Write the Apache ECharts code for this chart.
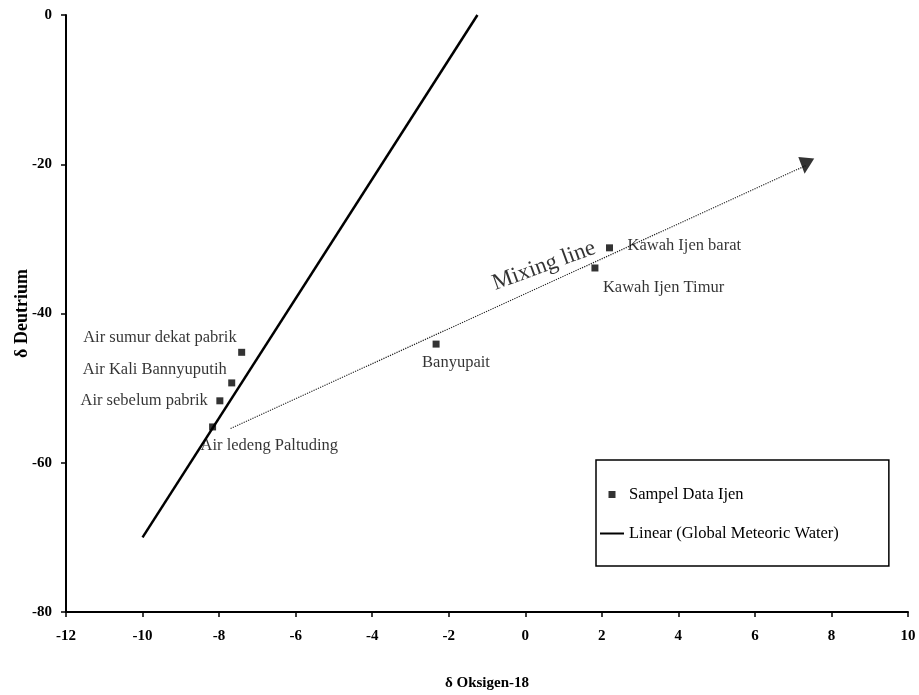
<!DOCTYPE html>
<html>
<head>
    <meta charset="utf-8">
    <title>Mixing line</title>
    <script src="https://cdn.jsdelivr.net/npm/echarts@6/dist/echarts.min.js"></script>
    <style>
        html, body { margin: 0; padding: 0; background: #fff; }
        #main { width: 919px; height: 695px; }
    </style>
</head>
<body>
<div id="main"></div>
<script type="text/javascript">
    // sampel data ijen
    var sampleNames = ['Kawah Ijen barat', 'Kawah Ijen Timur', 'Banyupait', 'Air sumur dekat pabrik',
                       'Air Kali Bannyuputih', 'Air sebelum pabrik', 'Air ledeng Paltuding'];
    var sampleX = [2.2, 1.82, -2.33, -7.41, -7.67, -7.98, -8.17];
    var sampleY = [-31.2, -33.9, -44.1, -45.2, -49.3, -51.7, -55.2];

    // garis air meteorik global
    var gmwlX = [-10, -1.25];
    var gmwlY = [-70, 0];

    // mixing line
    var mixX = [-7.7, 7.32];
    var mixY = [-55.4, -20.2];
    var mixText = 'Mixing line';
    var mixTextX = 0.49;
    var mixTextY = -33.6;

    var xTicks = [-12, 10, 2];
    var yTicks = [-80, 0, 20];

    var serif = "'Liberation Serif', 'Times New Roman', serif";

    // posisi label tiap titik
    var labelLayout = [
        {align: 'left',  offset: [18, -2]},
        {align: 'left',  offset: [8, 20]},
        {align: 'left',  offset: [-14, 19]},
        {align: 'right', offset: [-5, -15]},
        {align: 'right', offset: [-5, -13]},
        {align: 'right', offset: [-12, 0]},
        {align: 'left',  offset: [-12, 19]}
    ];

    var samples = [];
    for (var i = 0; i < sampleNames.length; i++) {
        samples.push({
            name: sampleNames[i],
            value: [sampleX[i], sampleY[i]],
            label: {
                show: true,
                position: 'inside',
                align: labelLayout[i].align,
                verticalAlign: 'middle',
                offset: labelLayout[i].offset,
                formatter: '{b}',
                color: '#000',
                fontFamily: serif,
                fontSize: 16.5
            }
        });
    }

    var gmwl = [];
    for (var i = 0; i < gmwlX.length; i++) gmwl.push([gmwlX[i], gmwlY[i]]);

    var mix = [];
    for (var i = 0; i < mixX.length; i++) mix.push([mixX[i], mixY[i]]);
    var arrowEnd = [mix[mix.length - 1]];

    var chart = echarts.init(document.getElementById('main'));
    chart.setOption({
        animation: false,
        backgroundColor: '#fff',
        grid: {
            left: 66, right: 11, top: 15, bottom: 83,
            containLabel: false,
            outerBoundsMode: 'none'
        },
        legend: {
            data: [
                {name: 'Sampel Data Ijen', icon: 'path://M0,0L10,0L10,10L0,10Z'},
                {name: 'Linear (Global Meteoric Water)', icon: 'path://M0,0L24,0L24,2L0,2Z'}
            ],
            orient: 'vertical',
            left: 596,
            top: 460,
            itemWidth: 24,
            itemHeight: 7,
            itemGap: 22,
            padding: [26, 50, 24, 4],
            backgroundColor: '#fff',
            borderColor: '#000',
            borderWidth: 1.5,
            textStyle: {
                color: '#000',
                fontFamily: serif,
                fontSize: 16.5
            }
        },
        xAxis: {
            type: 'value',
            min: xTicks[0], max: xTicks[1], interval: xTicks[2],
            name: 'δ Oksigen-18',
            nameLocation: 'middle',
            nameGap: 64,
            nameTextStyle: {color: '#000', fontFamily: serif, fontSize: 15, fontWeight: 'bold'},
            splitLine: {show: false},
            axisLine: {onZero: false, lineStyle: {color: '#000', width: 2}},
            axisTick: {length: 5, lineStyle: {color: '#000', width: 1.5}},
            axisLabel: {color: '#000', fontFamily: serif, fontSize: 15, fontWeight: 'bold', margin: 17}
        },
        yAxis: {
            type: 'value',
            min: yTicks[0], max: yTicks[1], interval: yTicks[2],
            name: 'δ Deutrium',
            nameLocation: 'middle',
            nameGap: 35,
            nameMoveOverlap: false,
            nameTextStyle: {color: '#000', fontFamily: serif, fontSize: 18, fontWeight: 'bold'},
            splitLine: {show: false},
            axisLine: {onZero: false, lineStyle: {color: '#000', width: 2}},
            axisTick: {length: 5, lineStyle: {color: '#000', width: 1.5}},
            axisLabel: {color: '#000', fontFamily: serif, fontSize: 15, fontWeight: 'bold', margin: 14}
        },
        series: [
            {
                name: 'Linear (Global Meteoric Water)',
                type: 'line',
                data: gmwl,
                symbol: 'none',
                lineStyle: {color: '#000', width: 2.5},
                itemStyle: {color: '#000'},
                z: 2
            },
            {
                name: 'Mixing',
                type: 'line',
                data: mix,
                symbol: 'none',
                lineStyle: {color: '#222', width: 1.2, type: 'dotted'},
                z: 1
            },
            {
                name: 'Arrow',
                type: 'scatter',
                data: arrowEnd,
                symbol: 'triangle',
                symbolSize: 16,
                symbolRotate: 174,
                itemStyle: {color: '#000'},
                silent: true,
                z: 1
            },
            {
                name: 'Sampel Data Ijen',
                type: 'scatter',
                data: samples,
                symbol: 'rect',
                symbolSize: 7,
                itemStyle: {color: '#000'},
                z: 3
            },
            {
                name: 'MixText',
                type: 'scatter',
                data: [[mixTextX, mixTextY]],
                symbolSize: 0,
                label: {
                    show: true,
                    position: 'inside',
                    formatter: mixText,
                    rotate: 20,
                    color: '#000',
                    fontFamily: serif,
                    fontSize: 23
                },
                silent: true
            }
        ]
    });
</script>
</body>
</html>
